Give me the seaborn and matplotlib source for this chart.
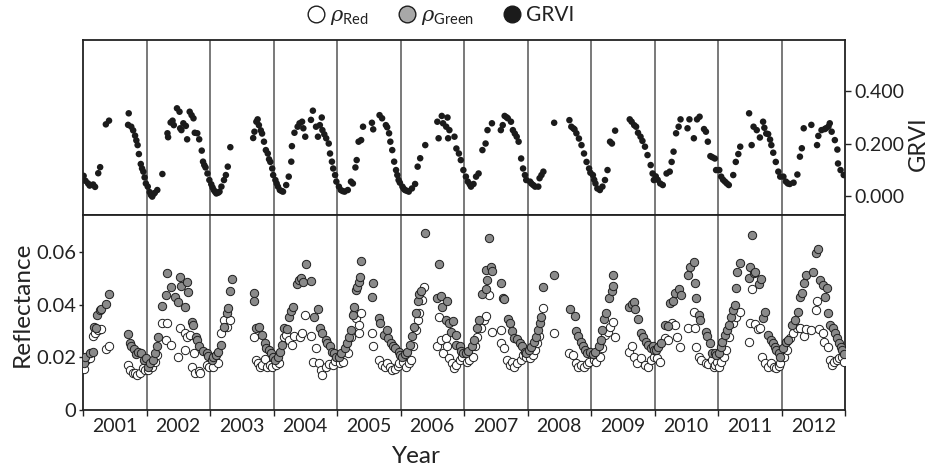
import numpy as np
import pandas as pd
import seaborn as sns
import matplotlib.pyplot as plt
from matplotlib.lines import Line2D
from matplotlib.ticker import FixedLocator, FixedFormatter, NullFormatter

years = list(range(2001, 2013))
year_labels = [str(y) for y in years]

# ---------------- GRVI (decimal year, value) ----------------
grvi_date = [
    2001.01, 2001.04, 2001.08, 2001.105, 2001.16, 2001.19, 2001.24, 2001.27, 2001.36, 2001.41, 2001.71, 2001.72, 2001.76, 2001.79, 2001.82, 2001.84, 2001.86, 2001.88, 2001.91, 2001.93, 2001.95, 2001.97, 2001.99,
    2002.02, 2002.05, 2002.07, 2002.09, 2002.11, 2002.13, 2002.17, 2002.25, 2002.33, 2002.34, 2002.38, 2002.41, 2002.43, 2002.48, 2002.52, 2002.53, 2002.55, 2002.58, 2002.62, 2002.64, 2002.68, 2002.71, 2002.74, 2002.76, 2002.80, 2002.83, 2002.87, 2002.89, 2002.91, 2002.93, 2002.96, 2002.99,
    2003.02, 2003.04, 2003.06, 2003.08, 2003.10, 2003.13, 2003.15, 2003.18, 2003.22, 2003.25, 2003.28, 2003.32, 2003.68, 2003.70, 2003.73, 2003.75, 2003.77, 2003.80, 2003.82, 2003.85, 2003.88, 2003.91, 2003.93, 2003.95, 2003.98, 2003.995,
    2004.03, 2004.05, 2004.07, 2004.10, 2004.13, 2004.15, 2004.20, 2004.24, 2004.28, 2004.29, 2004.33, 2004.38, 2004.41, 2004.45, 2004.47, 2004.50, 2004.59, 2004.62, 2004.67, 2004.70, 2004.73, 2004.76, 2004.77, 2004.80, 2004.83, 2004.87, 2004.89, 2004.92, 2004.94, 2004.97, 2004.99,
    2005.03, 2005.06, 2005.09, 2005.12, 2005.17, 2005.22, 2005.25, 2005.29, 2005.31, 2005.34, 2005.38, 2005.41, 2005.55, 2005.57, 2005.67, 2005.71, 2005.77, 2005.79, 2005.82, 2005.84, 2005.87, 2005.90, 2005.93, 2005.95, 2005.97, 2005.99,
    2006.03, 2006.05, 2006.07, 2006.10, 2006.13, 2006.18, 2006.23, 2006.27, 2006.31, 2006.39, 2006.58, 2006.60, 2006.65, 2006.67, 2006.72, 2006.74, 2006.75, 2006.77, 2006.85, 2006.88, 2006.92, 2006.95, 2006.99,
    2007.03, 2007.06, 2007.09, 2007.11, 2007.15, 2007.19, 2007.23, 2007.29, 2007.34, 2007.37, 2007.44, 2007.58, 2007.61, 2007.64, 2007.67, 2007.69, 2007.74, 2007.77, 2007.80, 2007.83, 2007.86, 2007.90, 2007.93, 2007.96, 2007.98,
    2008.04, 2008.06, 2008.09, 2008.12, 2008.17, 2008.19, 2008.22, 2008.25, 2008.42, 2008.66, 2008.69, 2008.72, 2008.74, 2008.77, 2008.81, 2008.85, 2008.89, 2008.93, 2008.97, 2008.99,
    2009.03, 2009.05, 2009.07, 2009.10, 2009.14, 2009.18, 2009.22, 2009.26, 2009.30, 2009.33, 2009.38, 2009.61, 2009.64, 2009.68, 2009.71, 2009.74, 2009.78, 2009.81, 2009.85, 2009.89, 2009.94, 2009.97, 2009.99,
    2010.02, 2010.05, 2010.09, 2010.13, 2010.19, 2010.24, 2010.27, 2010.30, 2010.34, 2010.38, 2010.41, 2010.52, 2010.55, 2010.62, 2010.67, 2010.71, 2010.78, 2010.81, 2010.84, 2010.88, 2010.91, 2010.95, 2010.97,
    2011.02, 2011.05, 2011.08, 2011.11, 2011.14, 2011.17, 2011.24, 2011.28, 2011.32, 2011.35, 2011.49, 2011.53, 2011.56, 2011.61, 2011.66, 2011.71, 2011.73, 2011.76, 2011.79, 2011.82, 2011.84, 2011.87, 2011.91, 2011.95, 2011.98,
    2012.03, 2012.07, 2012.10, 2012.13, 2012.19, 2012.25, 2012.29, 2012.32, 2012.35, 2012.47, 2012.56, 2012.58, 2012.63, 2012.68, 2012.70, 2012.74, 2012.76, 2012.79, 2012.84, 2012.88, 2012.89, 2012.93, 2012.98,
]
grvi_val = [
    0.077, 0.058, 0.048, 0.040, 0.044, 0.035, 0.087, 0.110, 0.273, 0.287, 0.271, 0.315, 0.264, 0.250, 0.230, 0.212, 0.194, 0.160, 0.122, 0.105, 0.093, 0.071, 0.048,
    0.036, 0.015, 0.004, -0.002, 0.008, 0.012, 0.023, 0.084, 0.239, 0.224, 0.280, 0.287, 0.270, 0.334, 0.321, 0.258, 0.251, 0.277, 0.267, 0.216, 0.321, 0.308, 0.296, 0.241, 0.239, 0.216, 0.173, 0.131, 0.118, 0.109, 0.086, 0.061,
    0.045, 0.033, 0.023, 0.016, 0.010, 0.013, 0.017, 0.036, 0.061, 0.080, 0.112, 0.186, 0.221, 0.245, 0.283, 0.292, 0.270, 0.250, 0.238, 0.207, 0.175, 0.162, 0.140, 0.130, 0.105, 0.080,
    0.061, 0.048, 0.036, 0.023, 0.019, 0.017, 0.042, 0.074, 0.131, 0.190, 0.241, 0.264, 0.277, 0.283, 0.258, 0.226, 0.290, 0.325, 0.264, 0.226, 0.270, 0.299, 0.251, 0.235, 0.220, 0.200, 0.162, 0.131, 0.105, 0.080, 0.055,
    0.036, 0.023, 0.019, 0.017, 0.023, 0.055, 0.048, 0.109, 0.137, 0.207, 0.213, 0.264, 0.279, 0.254, 0.308, 0.296, 0.270, 0.262, 0.239, 0.207, 0.175, 0.131, 0.099, 0.080, 0.061, 0.051,
    0.036, 0.028, 0.023, 0.020, 0.017, 0.029, 0.046, 0.112, 0.144, 0.194, 0.283, 0.220, 0.305, 0.277, 0.264, 0.299, 0.220, 0.251, 0.226, 0.181, 0.162, 0.137, 0.099,
    0.074, 0.055, 0.045, 0.036, 0.046, 0.074, 0.086, 0.175, 0.200, 0.251, 0.277, 0.251, 0.270, 0.305, 0.300, 0.296, 0.283, 0.251, 0.238, 0.226, 0.207, 0.143, 0.105, 0.080, 0.061,
    0.055, 0.048, 0.042, 0.036, 0.036, 0.068, 0.080, 0.093, 0.279, 0.289, 0.264, 0.258, 0.254, 0.239, 0.219, 0.194, 0.162, 0.130, 0.105, 0.089,
    0.080, 0.062, 0.048, 0.029, 0.023, 0.036, 0.061, 0.099, 0.207, 0.200, 0.249, 0.292, 0.283, 0.270, 0.264, 0.241, 0.226, 0.210, 0.188, 0.156, 0.118, 0.086, 0.061,
    0.075, 0.062, 0.048, 0.042, 0.086, 0.093, 0.130, 0.169, 0.239, 0.264, 0.292, 0.258, 0.292, 0.220, 0.292, 0.302, 0.255, 0.245, 0.207, 0.152, 0.148, 0.143, 0.099,
    0.099, 0.074, 0.062, 0.055, 0.048, 0.042, 0.080, 0.130, 0.160, 0.188, 0.315, 0.194, 0.264, 0.251, 0.223, 0.283, 0.260, 0.238, 0.236, 0.215, 0.194, 0.165, 0.130, 0.093, 0.074,
    0.074, 0.055, 0.048, 0.046, 0.051, 0.082, 0.150, 0.182, 0.258, 0.271, 0.194, 0.229, 0.251, 0.255, 0.258, 0.265, 0.277, 0.245, 0.213, 0.177, 0.124, 0.099, 0.080,
]

# ---------------- Green reflectance ----------------
green_date = [
    2001.02, 2001.03, 2001.11, 2001.15, 2001.17, 2001.20, 2001.22, 2001.26, 2001.28, 2001.36, 2001.41, 2001.71, 2001.74, 2001.76, 2001.80, 2001.83, 2001.87, 2001.92, 2001.96, 2001.99,
    2002.03, 2002.06, 2002.11, 2002.13, 2002.16, 2002.18, 2002.25, 2002.31, 2002.33, 2002.39, 2002.45, 2002.50, 2002.53, 2002.55, 2002.61, 2002.63, 2002.66, 2002.71, 2002.74, 2002.78, 2002.80, 2002.83, 2002.89, 2002.95, 2002.97,
    2003.03, 2003.05, 2003.09, 2003.13, 2003.18, 2003.22, 2003.26, 2003.29, 2003.31, 2003.34, 2003.69, 2003.70, 2003.73, 2003.77, 2003.82, 2003.86, 2003.88, 2003.93, 2003.96, 2003.99,
    2004.03, 2004.07, 2004.10, 2004.14, 2004.17, 2004.21, 2004.24, 2004.28, 2004.30, 2004.37, 2004.40, 2004.43, 2004.47, 2004.51, 2004.59, 2004.63, 2004.70, 2004.73, 2004.77, 2004.82, 2004.85, 2004.89, 2004.92, 2004.96, 2004.98,
    2005.03, 2005.06, 2005.12, 2005.15, 2005.19, 2005.22, 2005.25, 2005.26, 2005.30, 2005.32, 2005.35, 2005.36, 2005.38, 2005.55, 2005.56, 2005.66, 2005.68, 2005.74, 2005.78, 2005.81, 2005.85, 2005.88, 2005.92, 2005.97, 2005.99,
    2006.03, 2006.07, 2006.11, 2006.15, 2006.18, 2006.22, 2006.25, 2006.27, 2006.29, 2006.32, 2006.38, 2006.57, 2006.60, 2006.64, 2006.66, 2006.71, 2006.73, 2006.77, 2006.79, 2006.82, 2006.87, 2006.88, 2006.93, 2006.95, 2006.99,
    2007.03, 2007.07, 2007.13, 2007.16, 2007.20, 2007.24, 2007.29, 2007.34, 2007.35, 2007.37, 2007.40, 2007.42, 2007.44, 2007.58, 2007.61, 2007.63, 2007.69, 2007.72, 2007.75, 2007.79, 2007.84, 2007.88, 2007.92, 2007.96, 2007.98,
    2008.03, 2008.06, 2008.10, 2008.13, 2008.17, 2008.19, 2008.22, 2008.24, 2008.42, 2008.67, 2008.75, 2008.77, 2008.80, 2008.84, 2008.87, 2008.91, 2008.94, 2008.98,
    2009.03, 2009.07, 2009.12, 2009.16, 2009.18, 2009.21, 2009.23, 2009.29, 2009.33, 2009.34, 2009.35, 2009.60, 2009.64, 2009.68, 2009.70, 2009.74, 2009.78, 2009.82, 2009.86, 2009.89, 2009.94, 2009.97, 2009.99,
    2010.03, 2010.06, 2010.11, 2010.17, 2010.22, 2010.24, 2010.29, 2010.32, 2010.38, 2010.41, 2010.53, 2010.56, 2010.62, 2010.64, 2010.66, 2010.70, 2010.72, 2010.81, 2010.83, 2010.87, 2010.91, 2010.95, 2010.97,
    2011.02, 2011.04, 2011.07, 2011.11, 2011.14, 2011.17, 2011.21, 2011.24, 2011.26, 2011.29, 2011.30, 2011.34, 2011.49, 2011.51, 2011.53, 2011.56, 2011.59, 2011.65, 2011.67, 2011.71, 2011.74, 2011.79, 2011.83, 2011.86, 2011.89, 2011.92, 2011.96, 2011.98,
    2012.03, 2012.07, 2012.11, 2012.16, 2012.21, 2012.26, 2012.29, 2012.32, 2012.35, 2012.38, 2012.49, 2012.55, 2012.58, 2012.61, 2012.65, 2012.68, 2012.72, 2012.74, 2012.77, 2012.81, 2012.84, 2012.88, 2012.91, 2012.93, 2012.96, 2012.98,
]
green_val = [
    0.0180, 0.0203, 0.0218, 0.0222, 0.0316, 0.0310, 0.0361, 0.0380, 0.0383, 0.0403, 0.0439, 0.0289, 0.0253, 0.0241, 0.0230, 0.0213, 0.0222, 0.0215, 0.0190, 0.0196,
    0.0165, 0.0180, 0.0190, 0.0215, 0.0241, 0.0278, 0.0395, 0.0437, 0.0519, 0.0468, 0.0428, 0.0411, 0.0506, 0.0470, 0.0392, 0.0487, 0.0446, 0.0335, 0.0323, 0.0278, 0.0266, 0.0243, 0.0225, 0.0215, 0.0205,
    0.0190, 0.0203, 0.0209, 0.0222, 0.0247, 0.0316, 0.0367, 0.0386, 0.0453, 0.0496, 0.0443, 0.0415, 0.0310, 0.0316, 0.0285, 0.0253, 0.0234, 0.0228, 0.0215, 0.0203,
    0.0190, 0.0203, 0.0222, 0.0247, 0.0310, 0.0306, 0.0354, 0.0377, 0.0392, 0.0478, 0.0494, 0.0500, 0.0484, 0.0554, 0.0491, 0.0354, 0.0382, 0.0310, 0.0291, 0.0266, 0.0253, 0.0241, 0.0222, 0.0215, 0.0203,
    0.0203, 0.0215, 0.0234, 0.0253, 0.0278, 0.0304, 0.0361, 0.0392, 0.0456, 0.0466, 0.0487, 0.0504, 0.0567, 0.0428, 0.0481, 0.0348, 0.0332, 0.0285, 0.0304, 0.0272, 0.0253, 0.0241, 0.0234, 0.0222, 0.0209,
    0.0203, 0.0213, 0.0222, 0.0247, 0.0281, 0.0316, 0.0367, 0.0415, 0.0441, 0.0453, 0.0671, 0.0424, 0.0553, 0.0433, 0.0392, 0.0342, 0.0415, 0.0332, 0.0297, 0.0339, 0.0285, 0.0247, 0.0241, 0.0225, 0.0215,
    0.0215, 0.0225, 0.0241, 0.0266, 0.0310, 0.0342, 0.0441, 0.0458, 0.0532, 0.0494, 0.0652, 0.0544, 0.0529, 0.0481, 0.0424, 0.0420, 0.0344, 0.0332, 0.0301, 0.0272, 0.0268, 0.0253, 0.0241, 0.0222, 0.0215,
    0.0228, 0.0240, 0.0259, 0.0278, 0.0304, 0.0329, 0.0352, 0.0466, 0.0512, 0.0382, 0.0357, 0.0301, 0.0281, 0.0259, 0.0243, 0.0228, 0.0215, 0.0221,
    0.0213, 0.0222, 0.0241, 0.0266, 0.0304, 0.0344, 0.0367, 0.0424, 0.0453, 0.0513, 0.0471, 0.0392, 0.0403, 0.0411, 0.0382, 0.0344, 0.0294, 0.0278, 0.0259, 0.0247, 0.0234, 0.0241, 0.0228,
    0.0228, 0.0240, 0.0253, 0.0323, 0.0319, 0.0407, 0.0415, 0.0443, 0.0458, 0.0436, 0.0512, 0.0544, 0.0563, 0.0483, 0.0424, 0.0361, 0.0342, 0.0297, 0.0281, 0.0253, 0.0215, 0.0218, 0.0209,
    0.0215, 0.0240, 0.0259, 0.0285, 0.0304, 0.0323, 0.0354, 0.0380, 0.0398, 0.0462, 0.0525, 0.0557, 0.0500, 0.0544, 0.0664, 0.0519, 0.0525, 0.0478, 0.0496, 0.0348, 0.0373, 0.0285, 0.0266, 0.0253, 0.0240, 0.0228, 0.0215, 0.0202,
    0.0234, 0.0259, 0.0266, 0.0323, 0.0342, 0.0373, 0.0430, 0.0443, 0.0481, 0.0512, 0.0525, 0.0595, 0.0610, 0.0493, 0.0474, 0.0428, 0.0462, 0.0369, 0.0323, 0.0310, 0.0291, 0.0272, 0.0256, 0.0240, 0.0228, 0.0213,
]

# ---------------- Red reflectance ----------------
red_date = [
    2001.02, 2001.05, 2001.11, 2001.16, 2001.19, 2001.24, 2001.28, 2001.36, 2001.41, 2001.71, 2001.74, 2001.78, 2001.82, 2001.85, 2001.90, 2001.94, 2001.97,
    2002.03, 2002.08, 2002.13, 2002.17, 2002.25, 2002.31, 2002.33, 2002.38, 2002.50, 2002.53, 2002.61, 2002.61, 2002.63, 2002.68, 2002.71, 2002.75, 2002.76, 2002.82, 2002.85, 2002.95, 2002.99,
    2003.04, 2003.12, 2003.18, 2003.22, 2003.26, 2003.31, 2003.69, 2003.73, 2003.75, 2003.78, 2003.82, 2003.86, 2003.89, 2003.94, 2003.98,
    2004.04, 2004.09, 2004.16, 2004.20, 2004.24, 2004.29, 2004.33, 2004.41, 2004.45, 2004.50, 2004.59, 2004.62, 2004.67, 2004.71, 2004.75, 2004.77, 2004.83, 2004.88, 2004.93, 2004.97,
    2005.04, 2005.09, 2005.17, 2005.22, 2005.26, 2005.30, 2005.34, 2005.35, 2005.38, 2005.55, 2005.56, 2005.66, 2005.71, 2005.76, 2005.79, 2005.83, 2005.87, 2005.91, 2005.96, 2005.98,
    2006.04, 2006.08, 2006.13, 2006.16, 2006.20, 2006.24, 2006.27, 2006.29, 2006.34, 2006.37, 2006.58, 2006.60, 2006.64, 2006.67, 2006.72, 2006.74, 2006.77, 2006.81, 2006.85, 2006.88, 2006.93, 2006.97,
    2007.04, 2007.08, 2007.14, 2007.18, 2007.21, 2007.27, 2007.32, 2007.35, 2007.40, 2007.44, 2007.58, 2007.59, 2007.63, 2007.67, 2007.72, 2007.75, 2007.79, 2007.84, 2007.90, 2007.93, 2007.97,
    2008.04, 2008.08, 2008.12, 2008.15, 2008.18, 2008.25, 2008.42, 2008.66, 2008.71, 2008.76, 2008.80, 2008.85, 2008.89, 2008.93, 2008.97,
    2009.04, 2009.08, 2009.14, 2009.18, 2009.22, 2009.26, 2009.30, 2009.34, 2009.38, 2009.60, 2009.64, 2009.68, 2009.73, 2009.78, 2009.85, 2009.90, 2009.95, 2009.99,
    2010.04, 2010.09, 2010.17, 2010.22, 2010.27, 2010.32, 2010.35, 2010.40, 2010.53, 2010.62, 2010.64, 2010.66, 2010.70, 2010.74, 2010.81, 2010.84, 2010.90, 2010.93, 2010.96, 2010.99,
    2011.02, 2011.05, 2011.09, 2011.13, 2011.18, 2011.24, 2011.29, 2011.34, 2011.49, 2011.51, 2011.53, 2011.58, 2011.63, 2011.66, 2011.70, 2011.74, 2011.79, 2011.84, 2011.88, 2011.92, 2011.96, 2011.98,
    2012.04, 2012.09, 2012.14, 2012.18, 2012.24, 2012.29, 2012.35, 2012.39, 2012.47, 2012.55, 2012.56, 2012.59, 2012.65, 2012.67, 2012.74, 2012.76, 2012.79, 2012.83, 2012.87, 2012.91, 2012.95, 2012.98,
]
red_val = [
    0.0154, 0.0190, 0.0196, 0.0279, 0.0291, 0.0304, 0.0306, 0.0230, 0.0243, 0.0171, 0.0152, 0.0139, 0.0142, 0.0133, 0.0142, 0.0158, 0.0152,
    0.0152, 0.0162, 0.0184, 0.0209, 0.0332, 0.0266, 0.0329, 0.0247, 0.0203, 0.0310, 0.0291, 0.0228, 0.0278, 0.0285, 0.0165, 0.0218, 0.0139, 0.0149, 0.0139, 0.0171, 0.0165,
    0.0165, 0.0177, 0.0291, 0.0342, 0.0316, 0.0342, 0.0276, 0.0190, 0.0177, 0.0165, 0.0171, 0.0192, 0.0165, 0.0171, 0.0162,
    0.0171, 0.0177, 0.0278, 0.0285, 0.0266, 0.0247, 0.0281, 0.0276, 0.0291, 0.0361, 0.0281, 0.0184, 0.0234, 0.0180, 0.0152, 0.0133, 0.0165, 0.0175, 0.0171, 0.0187,
    0.0177, 0.0184, 0.0215, 0.0276, 0.0367, 0.0348, 0.0291, 0.0323, 0.0367, 0.0291, 0.0241, 0.0190, 0.0171, 0.0165, 0.0177, 0.0162, 0.0152, 0.0154, 0.0167, 0.0177,
    0.0184, 0.0165, 0.0177, 0.0190, 0.0241, 0.0304, 0.0342, 0.0367, 0.0418, 0.0468, 0.0241, 0.0354, 0.0266, 0.0215, 0.0272, 0.0241, 0.0196, 0.0177, 0.0158, 0.0171, 0.0190, 0.0203,
    0.0184, 0.0190, 0.0203, 0.0241, 0.0278, 0.0310, 0.0342, 0.0357, 0.0437, 0.0297, 0.0304, 0.0253, 0.0234, 0.0190, 0.0171, 0.0184, 0.0165, 0.0177, 0.0190, 0.0209, 0.0203,
    0.0196, 0.0209, 0.0228, 0.0253, 0.0281, 0.0386, 0.0291, 0.0215, 0.0209, 0.0177, 0.0164, 0.0171, 0.0164, 0.0174, 0.0183,
    0.0190, 0.0184, 0.0203, 0.0234, 0.0285, 0.0297, 0.0314, 0.0335, 0.0278, 0.0222, 0.0241, 0.0203, 0.0177, 0.0196, 0.0171, 0.0165, 0.0190, 0.0203,
    0.0196, 0.0183, 0.0272, 0.0266, 0.0329, 0.0323, 0.0278, 0.0240, 0.0310, 0.0373, 0.0310, 0.0238, 0.0202, 0.0190, 0.0180, 0.0175, 0.0190, 0.0164, 0.0171, 0.0183,
    0.0164, 0.0183, 0.0202, 0.0228, 0.0278, 0.0329, 0.0352, 0.0373, 0.0259, 0.0329, 0.0458, 0.0326, 0.0306, 0.0313, 0.0200, 0.0180, 0.0164, 0.0177, 0.0164, 0.0158, 0.0167, 0.0177,
    0.0202, 0.0228, 0.0272, 0.0291, 0.0310, 0.0310, 0.0281, 0.0306, 0.0304, 0.0380, 0.0415, 0.0306, 0.0291, 0.0259, 0.0240, 0.0190, 0.0171, 0.0183, 0.0190, 0.0196, 0.0202, 0.0183,
]

grvi_df = pd.DataFrame({"date": grvi_date, "value": grvi_val})
green_df = pd.DataFrame({"date": green_date, "value": green_val})
red_df = pd.DataFrame({"date": red_date, "value": red_val})

sns.set_style("ticks")
plt.rcParams['font.family'] = ['Lato', 'DejaVu Sans']
plt.rcParams['mathtext.fontset'] = 'custom'
plt.rcParams['mathtext.rm'] = 'Lato'
plt.rcParams['mathtext.it'] = 'DejaVu Serif:italic'

W, H = 930, 473
fig = plt.figure(figsize=(W / 100, H / 100), dpi=100)
left, right = 83, 845
ax1 = fig.add_axes([left / W, 1 - 215 / H, (right - left) / W, 175 / H])
ax2 = fig.add_axes([left / W, 1 - 410 / H, (right - left) / W, 195 / H], sharex=ax1)

edge = '#1e1e1e'
txt = '#222222'
sns.scatterplot(data=grvi_df, x="date", y="value", ax=ax1, color='#1b1b1b',
                s=22, edgecolor='none', linewidth=0, zorder=3)
sns.scatterplot(data=red_df, x="date", y="value", ax=ax2, color='white',
                s=36, edgecolor=edge, linewidth=0.7, zorder=3)
sns.scatterplot(data=green_df, x="date", y="value", ax=ax2, color='#8a8a8a',
                s=36, edgecolor=edge, linewidth=0.7, zorder=4)

for ax in (ax1, ax2):
    for b in range(2002, 2013):
        ax.axvline(b, color='#555555', lw=1.1, zorder=1)
    for sp in ax.spines.values():
        sp.set_visible(True)
        sp.set_color(txt)
        sp.set_linewidth(1.3)
    ax.set_xlabel('')
    ax.set_ylabel('')

ax1.set_xlim(2001, 2013)
ax1.set_ylim(-0.072, 0.594)
ax1.yaxis.tick_right()
ax1.yaxis.set_label_position('right')
ax1.set_yticks([0.0, 0.2, 0.4])
ax1.set_yticklabels(['0.000', '0.200', '0.400'])
ax1.tick_params(axis='y', direction='out', length=4, width=1, colors=txt,
                labelsize=14, pad=3)
ax1.tick_params(axis='x', which='both', bottom=False, labelbottom=False)
ax1.set_ylabel('GRVI', fontsize=17, color=txt)
ax1.yaxis.set_label_coords((908 - left) / (right - left), (215 - 144) / 175)

ax2.set_ylim(0, 0.074)
ax2.set_yticks([0, 0.02, 0.04, 0.06])
ax2.set_yticklabels(['0', '0.02', '0.04', '0.06'])
ax2.tick_params(axis='y', direction='out', length=3, width=1, colors=txt,
                labelsize=14.5, pad=2, right=False)
ax2.xaxis.set_major_locator(FixedLocator(list(range(2001, 2014))))
ax2.xaxis.set_major_formatter(NullFormatter())
ax2.xaxis.set_minor_locator(FixedLocator([y + 0.5 for y in years]))
ax2.xaxis.set_minor_formatter(FixedFormatter(year_labels))
ax2.tick_params(axis='x', which='major', direction='out', length=4, width=1, colors=txt)
ax2.tick_params(axis='x', which='minor', length=0, labelsize=14, pad=6, colors=txt)
ax2.set_xlabel('Year', fontsize=17.5, color=txt)
ax2.xaxis.set_label_coords((416 - left) / (right - left), -(446 - 410) / 195)
ax2.set_ylabel('Reflectance', fontsize=17.5, color=txt)
ax2.yaxis.set_label_coords(-(left - 33) / (right - left), (410 - 304) / 195)

handles = [
    Line2D([], [], marker='o', ls='none', markersize=12, markerfacecolor='white', markeredgecolor=edge, markeredgewidth=1),
    Line2D([], [], marker='o', ls='none', markersize=12, markerfacecolor='#a8a8a8', markeredgecolor=edge, markeredgewidth=1),
    Line2D([], [], marker='o', ls='none', markersize=12, markerfacecolor='#1b1b1b', markeredgecolor='#1b1b1b'),
]
labels = [r'$\mathit{\rho}_{\mathrm{Red}}$', r'$\mathit{\rho}_{\mathrm{Green}}$', 'GRVI']
fig.legend(handles, labels, loc='center', bbox_to_anchor=(440 / W, 1 - 16 / H), ncol=3,
           frameon=False, fontsize=15, handletextpad=0.2, columnspacing=1.3,
           handlelength=1.0, labelcolor=txt)

fig.savefig('out.png', dpi=100)
